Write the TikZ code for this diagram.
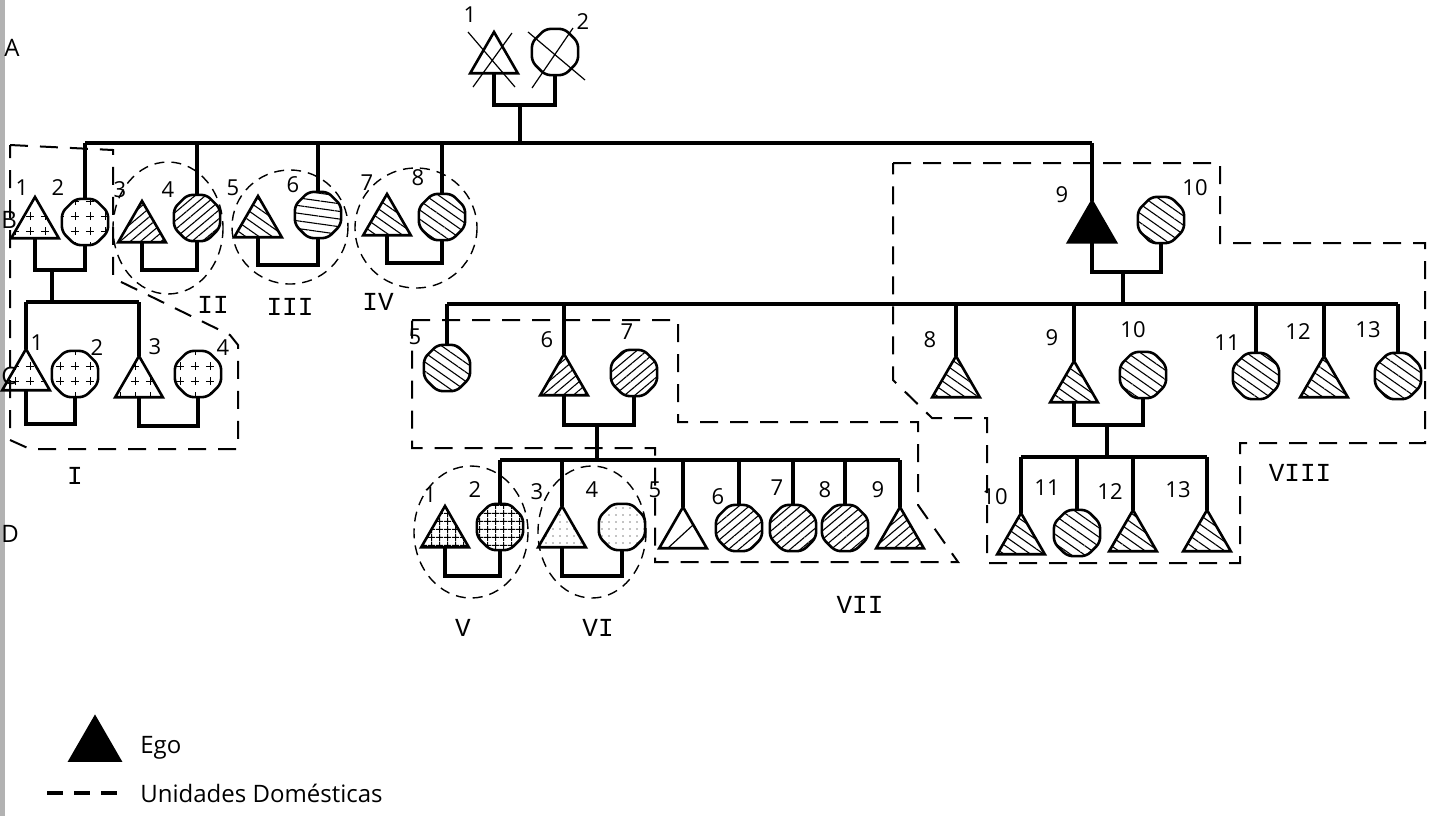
\documentclass[tikz,border=0pt]{standalone}
\usepackage{fontspec}
\setsansfont{Open Sans}
\setmonofont{Liberation Mono}
\usetikzlibrary{shapes.geometric,patterns.meta}

\tikzdeclarepattern{
  name=Pluses,
  type=uncolored,
  bounding box={(-2.5pt,-2.5pt) and (2.5pt,2.5pt)},
  tile size={(7.5pt,7.5pt)},
  code={
    \draw[line width=0.5pt] (-2.1pt,0pt) -- (2.1pt,0pt) (0pt,-2.1pt) -- (0pt,2.1pt);
  }
}

\begin{document}
\begin{tikzpicture}[x=0.5pt, y=-0.5pt,
  tri/.style={regular polygon, regular polygon sides=3, minimum size=27.5pt,
    inner sep=0pt, outer sep=0pt, draw, line width=1.3pt},
  oct/.style={regular polygon, regular polygon sides=8, minimum size=25pt,
    inner sep=0pt, outer sep=0pt, draw, line width=1.3pt, rounded corners=2.5pt},
  hatchdown/.style={pattern={Lines[angle=-35,distance=3.8pt,line width=0.55pt]}},
  hatchup/.style={pattern={Lines[angle=40,distance=3.3pt,line width=0.55pt]}},
  hatchflat/.style={pattern={Lines[angle=-8,distance=3.8pt,line width=0.55pt]}},
  pluses/.style={pattern=Pluses},
  gridfill/.style={pattern={Hatch[angle=0,distance=4pt,line width=0.6pt]}},
  dotfill/.style={pattern={Dots[distance=3.5pt,radius=0.35pt]}},
  ego/.style={fill=black},
  kin/.style={line width=1.6pt},
  house/.style={line width=1pt, dash pattern=on 9pt off 6pt},
  ring/.style={line width=0.7pt, dash pattern=on 5pt off 3.5pt},
  num/.style={font=\sffamily\fontsize{11}{11}\selectfont, inner sep=0pt},
  roman/.style={font=\ttfamily\fontsize{13}{13}\selectfont, inner sep=0pt},
  keytext/.style={font=\sffamily\fontsize{12}{12}\selectfont, inner sep=0pt, anchor=west}]

  \fill[white] (0,0) rectangle (1439,816);
  \useasboundingbox (0,0) rectangle (1439,816);
  \fill[black!30] (0,0) rectangle (5,816);

  % generation letters
  \node[keytext] (genA) at (4,48) {A};
  \node[keytext] (genB) at (1,220) {B};
  \node[keytext] (genC) at (1,376) {C};
  \node[keytext] (genD) at (1,534) {D};

  % generation A
  \node[tri] (a1) at (494,59.5) {};
  \node[oct] (a2) at (555,52) {};
  \draw[line width=0.6pt] (468,32) -- (515,87) (473,87) -- (512,33);
  \draw[line width=0.6pt] (528,32) -- (585,80) (532,88) -- (573,28);

  % generation B
  \node[tri, pluses] (b1) at (35,224.5) {};
  \node[oct, pluses] (b2) at (85,222) {};
  \node[tri, hatchup] (b3) at (142,228.5) {};
  \node[oct, hatchup] (b4) at (197,218) {};
  \node[tri, hatchdown] (b5) at (258,223.5) {};
  \node[oct, hatchflat] (b6) at (318,215) {};
  \node[tri, hatchdown] (b7) at (387,221.5) {};
  \node[oct, hatchdown] (b8) at (442,217) {};
  \node[tri, ego] (b9) at (1092,228.5) {};
  \node[oct, hatchdown] (b10) at (1161,220) {};

  % generation C
  \node[tri, pluses] (c1) at (26,376.5) {};
  \node[oct, pluses] (c2) at (75,374) {};
  \node[tri, pluses] (c3) at (139,383.5) {};
  \node[oct, pluses] (c4) at (198,374) {};
  \node[oct, hatchdown] (c5) at (447,368) {};
  \node[tri, hatchup] (c6) at (564,381.5) {};
  \node[oct, hatchup] (c7) at (634,373) {};
  \node[tri, hatchdown] (c8) at (956,383.5) {};
  \node[tri, hatchdown] (c9) at (1074,388.5) {};
  \node[oct, hatchdown] (c10) at (1143,375) {};
  \node[oct, hatchdown] (c11) at (1256,376) {};
  \node[tri, hatchdown] (c12) at (1324,383.5) {};
  \node[oct, hatchdown] (c13) at (1398,376) {};

  % generation D
  \node[tri, gridfill] (d1) at (445,533.5) {};
  \node[oct, gridfill] (d2) at (500,527) {};
  \node[tri, dotfill] (d3) at (562,533.5) {};
  \node[oct, dotfill] (d4) at (622,527) {};
  \node[tri] (d5) at (683,534.5) {};
  \node[oct, hatchup] (d6) at (739,528) {};
  \node[oct, hatchup] (d7) at (793,528) {};
  \node[oct, hatchup] (d8) at (845,528) {};
  \node[tri, hatchup] (d9) at (900,534.5) {};
  \node[tri, hatchdown] (d10) at (1021,540.5) {};
  \node[oct, hatchdown] (d11) at (1077,533) {};
  \node[tri, hatchdown] (d12) at (1133,537.5) {};
  \node[tri, hatchdown] (d13) at (1207,537.5) {};
  \draw[line width=0.6pt] (668,548) -- (693,525);

  % marriages and descent lines
  \coordinate (mA) at (520,105);
  \coordinate (sibB) at (520,143);
  \coordinate (mB1) at (52,270);
  \coordinate (mB3) at (170,270);
  \coordinate (mB5) at (288,265);
  \coordinate (mB7) at (415,263);
  \coordinate (mB9) at (1123,272);
  \coordinate (sibC1) at (52,302);
  \coordinate (sibC2) at (1123,304);
  \coordinate (mC1) at (50,424);
  \coordinate (mC3) at (168,426);
  \coordinate (mC6) at (597,425);
  \coordinate (mC9) at (1107,425);
  \coordinate (sibD1) at (597,460);
  \coordinate (sibD2) at (1107,457);
  \coordinate (mD1) at (470,576);
  \coordinate (mD3) at (592,576);

  \foreach \m/\t/\c in {mA/a1/a2, mB1/b1/b2, mB3/b3/b4, mB5/b5/b6, mB7/b7/b8,
      mB9/b9/b10, mC1/c1/c2, mC3/c3/c4, mC6/c6/c7, mC9/c9/c10, mD1/d1/d2, mD3/d3/d4}
    \draw[kin] (\t.south) |- (\m) -| (\c.south);

  \draw[kin] (mA) -- (sibB);
  \draw[kin] (b2.north |- sibB) -- (b9.north |- sibB);
  \foreach \n in {b2,b4,b6,b8,b9} \draw[kin] (\n.north |- sibB) -- (\n.north);

  \draw[kin] (mB1) -- (sibC1);
  \draw[kin] (c1.north |- sibC1) -- (c3.north |- sibC1);
  \foreach \n in {c1,c3} \draw[kin] (\n.north |- sibC1) -- (\n.north);

  \draw[kin] (mB9) -- (sibC2);
  \draw[kin] (c5.north |- sibC2) -- (c13.north |- sibC2);
  \foreach \n in {c5,c6,c8,c9,c11,c12,c13} \draw[kin] (\n.north |- sibC2) -- (\n.north);

  \draw[kin] (mC6) -- (sibD1);
  \draw[kin] (d2.north |- sibD1) -- (d9.north |- sibD1);
  \foreach \n in {d2,d3,d5,d6,d7,d8,d9} \draw[kin] (\n.north |- sibD1) -- (\n.north);

  \draw[kin] (mC9) -- (sibD2);
  \draw[kin] (d10.north |- sibD2) -- (d13.north |- sibD2);
  \foreach \n in {d10,d11,d12,d13} \draw[kin] (\n.north |- sibD2) -- (\n.north);

  % person numbers
  \foreach \t/\x/\y [count=\i] in {1/470/15, 2/583/22,
      1/22/188, 2/58/188, 3/120/190, 4/168/190, 5/233/188, 6/293/185, 7/367/183,
      8/418/178, 9/1062/195, 10/1195/188,
      1/37/343, 2/97/348, 3/155/347, 4/223/348,
      5/415/337, 6/547/340, 7/627/332, 8/930/340, 9/1052/338, 10/1133/330,
      11/1227/343, 12/1298/332, 13/1368/330,
      1/430/495, 2/475/490, 3/537/492, 4/592/490, 5/655/490, 6/718/497, 7/777/488,
      8/825/490, 9/878/490, 10/995/497, 11/1047/488, 12/1110/492, 13/1178/490}
    \node[num] (lab\i) at (\x,\y) {\t};

  % domestic units
  \draw[house] (10,145) -- (113,150) -- (113,278) -- (230,335) -- (238,345)
    -- (238,449) -- (30,449) -- (10,440) -- cycle;
  \draw[house] (412,320) -- (678,320) -- (678,422) -- (918,422) -- (918,505)
    -- (958,562) -- (655,562) -- (655,448) -- (412,448) -- cycle;
  \draw[house] (893,163) -- (1220,163) -- (1220,243) -- (1425,243) -- (1425,443)
    -- (1240,443) -- (1240,563) -- (987,563) -- (987,418) -- (932,418)
    -- (893,380) -- cycle;
  \draw[ring] (168,228) ellipse [x radius=55, y radius=66];
  \draw[ring] (290,227) ellipse [x radius=58, y radius=57];
  \draw[ring] (416,228) ellipse [x radius=61, y radius=60];
  \draw[ring] (471,532) ellipse [x radius=57, y radius=66];
  \draw[ring] (592,532) ellipse [x radius=54, y radius=66];

  \node[roman] (uI) at (75,476) {I};
  \node[roman] (uII) at (213,305) {II};
  \node[roman] (uIII) at (290,307) {III};
  \node[roman] (uIV) at (378,302) {IV};
  \node[roman] (uV) at (463,628) {V};
  \node[roman] (uVI) at (598,628) {VI};
  \node[roman] (uVII) at (860,605) {VII};
  \node[roman] (uVIII) at (1300,473) {VIII};

  % key
  \node[tri, ego, minimum size=29pt] (keyego) at (95,746) {};
  \node[keytext] (egotxt) at (140,748) {Ego};
  \coordinate (keyL) at (47,793);
  \coordinate (keyR) at (117,793);
  \draw[line width=2pt, dash pattern=on 8pt off 5.5pt] (keyL) -- (keyR);
  \node[keytext] (housetxt) at (140,793) {Unidades Domésticas};
\end{tikzpicture}
\end{document}
